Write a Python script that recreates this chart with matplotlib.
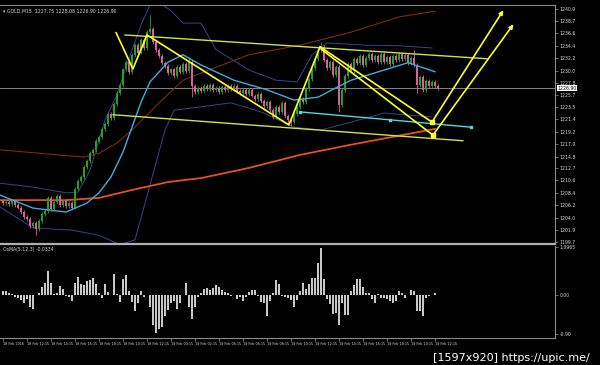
import matplotlib
matplotlib.use('Agg')
import matplotlib.pyplot as plt
import numpy as np

# GOLD M15 closes (one candle per bar, oldest first)
closes = [
    1206.6,
    1206.8, 1206.4, 1206.9, 1206.2, 1205.8,
    1205.0, 1204.2, 1203.8, 1202.6, 1203.1, 1202.0,
    1203.5, 1204.6, 1205.2, 1207.4, 1205.6, 1206.8, 1207.9, 1206.3, 1207.0, 1206.1, 1206.6, 1205.8,
    1209.0, 1210.5, 1211.2, 1213.0, 1214.1, 1215.4, 1216.0, 1217.6, 1218.2, 1219.7, 1220.5, 1222.3,
    1221.6, 1224.1, 1226.0, 1227.5, 1230.2, 1231.5, 1229.8, 1232.8, 1234.6, 1233.2, 1235.5, 1234.0,
    1236.8, 1237.3,
    1235.0, 1233.6, 1232.5, 1231.4, 1230.8, 1229.5, 1230.2, 1229.0, 1230.6, 1229.8, 1231.2, 1230.0, 1231.5,
    1227.2, 1226.2, 1227.0, 1226.4, 1227.2, 1226.8, 1227.4, 1226.6, 1227.0, 1226.3,
    1227.1, 1226.5, 1227.3, 1226.7, 1227.2, 1226.4, 1226.0, 1226.6, 1225.8, 1226.5,
    1225.6, 1225.0, 1225.8, 1224.6, 1223.8, 1224.5, 1223.0, 1221.8, 1223.5, 1222.6,
    1224.2, 1222.0, 1221.2, 1220.9,
    1222.4, 1223.6, 1225.0, 1224.4, 1226.8, 1228.6, 1230.5, 1232.0, 1233.6, 1234.2,
    1231.8, 1230.4, 1231.6, 1229.2, 1230.6, 1224.0, 1226.5, 1229.0, 1231.2, 1230.0,
    1232.1, 1231.4, 1232.6, 1231.0, 1232.2, 1233.0, 1231.8, 1232.5, 1231.6, 1232.9,
    1231.5, 1232.4, 1231.2, 1232.6, 1231.9, 1233.0, 1232.0, 1232.8, 1231.4, 1232.2,
    1231.0,
    1227.5, 1228.8, 1226.5, 1228.2, 1227.3, 1228.0, 1227.2, 1226.9,
]
first_open = 1206.9
long_highs = {49: 1239.8, 62: 1232.4, 106: 1235.0, 137: 1233.6}
long_lows = {11: 1200.9, 63: 1225.4, 95: 1220.3, 96: 1220.2, 112: 1222.6, 138: 1226.0}
last_price = 1226.90

# OsMA histogram
osma = [
    0.09, 0.09, 0.05, 0.02, -0.05, -0.07, -0.11, -0.18, -0.09, -0.27,
    -0.32, 0, 0.05, 0.18, 0.27, 0.55, 0.27, 0.02, 0.05, 0.21,
    0.14, -0.02, -0.05, -0.14, 0.27, 0.41, 0.25, 0.23, 0.32, 0.34,
    0.39, 0.25, 0.05, -0.07, 0.25, 0.07, 0, 0.48, 0.02, -0.16,
    0.37, 0.46, 0.09, -0.16, -0.37, -0.18, 0.09, -0.05, 0, -0.27,
    -0.68, -0.87, -0.78, -0.73, -0.48, -0.34, -0.18, -0.14, -0.32, -0.18,
    0, 0.27, -0.27, -0.55, -0.27, -0.05, 0.05, 0.14, 0.16, 0.11,
    0.16, 0.23, 0.18, 0.11, 0.07, 0.05, -0.02, 0, -0.09, -0.05,
    -0.14, -0.05, 0.07, 0.11, 0.11, -0.02, -0.16, -0.18, -0.48, -0.14,
    0.05, 0.34, 0.25, -0.02, -0.05, -0.07, -0.11, -0.27, -0.11, 0.09,
    0.27, 0.14, 0.25, 0.39, 0.39, 0.73, 1.07, 0.37, -0.09, -0.21,
    -0.43, -0.41, -0.68, -0.18, -0.46, -0.46, 0.09, 0.23, 0.37, 0.37,
    0.18, 0.05, 0.05, -0.09, -0.18, 0.02, -0.07, -0.07, -0.09, -0.14,
    -0.18, -0.14, 0.09, 0.05, -0.07, 0, 0.11, 0.09, -0.37, -0.37,
    -0.48, -0.07, -0.02, 0, 0.05, 0,
]

# indicator lines (bar index, price)
ma_fast_idx = [-1, 10, 21, 28, 32, 36, 40, 43, 46, 49, 55, 60, 66, 77, 88, 97, 105, 110, 116, 127, 135, 144]
ma_fast = [1208.0, 1205.7, 1205.0, 1206.6, 1208.4, 1211.2, 1215.6, 1220.0, 1224.4, 1228.0, 1231.5,
           1232.8, 1231.0, 1228.3, 1226.6, 1224.8, 1225.3, 1226.7, 1228.3, 1230.1, 1231.4, 1229.8]
ma_slow_idx = [-1, 21, 32, 43, 55, 66, 82, 99, 116, 130, 144]
ma_slow = [1207.1, 1207.1, 1207.5, 1208.9, 1210.3, 1211.0, 1212.8, 1215.1, 1216.9, 1218.3, 1219.7]
ma_long_idx = [-1, 27, 32, 38, 43, 52, 60, 71, 82, 99, 116, 132, 144]
ma_long = [1216.0, 1214.7, 1215.4, 1217.2, 1219.5, 1224.3, 1228.3, 1230.6, 1232.8, 1234.5, 1236.8,
           1239.5, 1240.5]
bb_up_idx = [-1, 10, 21, 25, 29, 34, 38, 41, 46, 49, 52, 56, 60, 66, 71, 82, 91, 98, 103, 108, 121, 132, 143]
bb_up = [1210.1, 1209.4, 1208.4, 1208.5, 1212.4, 1221.3, 1225.7, 1230.6, 1238.1, 1241.6, 1242.0,
         1240.6, 1238.4, 1238.4, 1233.7, 1230.1, 1228.3, 1228.0, 1232.8, 1234.9, 1234.5, 1234.4, 1234.0]
bb_lo_idx = [-1, 10, 23, 32, 39, 44, 49, 54, 57, 66, 76, 86, 97, 106, 116, 127, 143]
bb_lo = [1205.9, 1202.2, 1201.8, 1200.9, 1199.2, 1200.1, 1209.8, 1219.5, 1223.0, 1223.6, 1224.3,
         1222.7, 1220.0, 1219.5, 1220.9, 1222.5, 1221.8]

# hand-drawn objects (bar index, price)
zigzag = [(37.7, 1236.7), (43.3, 1230.3), (48.0, 1236.3), (95.3, 1220.4), (105.7, 1234.2)]
down_1 = [(105.7, 1234.2), (143.0, 1220.9)]
down_2 = [(106.3, 1233.7), (143.3, 1218.6)]
up_1 = [(143.0, 1220.9), (167.3, 1241.1)]
up_2 = [(143.3, 1218.6), (170.7, 1238.6)]
channel_top = [(40.7, 1236.3), (161.3, 1232.1)]
channel_bottom = [(36.7, 1222.2), (153.3, 1217.6)]
cyan_ray = [(99.0, 1222.7), (129.0, 1221.3), (156.0, 1220.0)]

price_labels = [1240.9, 1238.7, 1236.6, 1234.4, 1232.2, 1230.0, 1227.8, 1225.7, 1223.5, 1221.4,
                1219.2, 1217.0, 1214.8, 1212.7, 1210.6, 1208.4, 1206.2, 1204.0, 1201.9, 1199.7]
time_labels = ['18 Feb 2016', '18 Feb 12:15', '18 Feb 14:15', '18 Feb 16:15', '18 Feb 18:15',
               '18 Feb 20:15', '18 Feb 22:15', '19 Feb 00:15', '19 Feb 02:15', '19 Feb 04:15',
               '19 Feb 06:15', '19 Feb 08:15', '19 Feb 10:15', '19 Feb 12:15', '19 Feb 14:15',
               '19 Feb 16:15', '19 Feb 18:15', '19 Feb 20:15', '19 Feb 22:15']

BULL = '#23a123'
BEAR = '#d8619c'
AXIS = '#8a8a8a'
TXT = '#d8d8d8'

fig = plt.figure(figsize=(6, 3.65), dpi=100, facecolor='black')
ax = fig.add_axes([0.0, 1 - 244 / 365, 555 / 600, 239 / 365], facecolor='black')
ax2 = fig.add_axes([0.0, 1 - 338 / 365, 555 / 600, 92 / 365], facecolor='black', sharex=ax)

# candles
c = np.array(closes)
o = np.array([first_open] + closes[:-1])
x = np.arange(len(c))
hi = np.maximum(o, c) + 0.35
lo = np.minimum(o, c) - 0.35
for k, v in long_highs.items():
    hi[k] = v
for k, v in long_lows.items():
    lo[k] = v
cols = [BULL if cc >= oo else BEAR for oo, cc in zip(o, c)]
ax.vlines(x, lo, hi, colors=cols, lw=0.6, zorder=3)
ax.bar(x, np.maximum(np.abs(c - o), 0.18), bottom=np.minimum(o, c), width=0.62,
       color=cols, lw=0, zorder=3)

# moving averages and bands
ax.plot(bb_up_idx, bb_up, color='#34458a', lw=0.7, zorder=2)
ax.plot(bb_lo_idx, bb_lo, color='#34458a', lw=0.7, zorder=2)
ax.plot(ma_long_idx, ma_long, color='#7c2a12', lw=0.8, zorder=2)
ax.plot(ma_slow_idx, ma_slow, color='#e8501c', lw=1.3, zorder=2)
ax.plot(ma_fast_idx, ma_fast, color='#3aaee0', lw=1.0, zorder=4)

# current price line
ax.axhline(last_price, color='#9a9a9a', lw=0.6, zorder=1)

# drawn objects
yg = '#d2e04a'
for seg in (channel_top, channel_bottom):
    ax.plot(*zip(*seg), color=yg, lw=1.0, zorder=5)
cx, cy = zip(*cyan_ray)
ax.plot(cx, cy, color='#4fd8e0', lw=1.0, zorder=5)
ax.plot(cx, cy, 's', color='#4fd8e0', ms=1.6, zorder=5)
ax.plot(*zip(*zigzag), color='#ffff22', lw=1.2, zorder=6)
for seg in (down_1, down_2):
    ax.plot(*zip(*seg), color='#ffff22', lw=1.2, zorder=6)
    ax.plot(*seg[1], 's', color='#ffff22', ms=2.2, zorder=6)
for seg in (up_1, up_2):
    ax.annotate('', xy=seg[1], xytext=seg[0],
                arrowprops=dict(arrowstyle='-|>', color='#ffff22', lw=1.2, mutation_scale=6),
                zorder=6)

ax.set_xlim(-1, 184)
ax.set_ylim(1199.35, 1241.6)

# price scale on the right
ax.yaxis.tick_right()
ax.set_yticks(price_labels)
ax.set_yticklabels([f'{p:.1f}' for p in price_labels])
ax.tick_params(axis='y', colors=AXIS, labelcolor=TXT, labelsize=3.3, length=2, width=0.5, pad=1.5)
ax.tick_params(axis='x', bottom=False, labelbottom=False)
ax.text(1.004, last_price, f'{last_price:.2f}', transform=ax.get_yaxis_transform(),
        fontsize=3.3, color='black', va='center', ha='left',
        bbox=dict(boxstyle='square,pad=0.15', fc='white', ec='none'))
ax.spines['left'].set_visible(False)
ax.spines['top'].set_color(AXIS)
ax.spines['top'].set_linewidth(0.8)
ax.spines['right'].set_color(AXIS)
ax.spines['right'].set_linewidth(0.8)
ax.spines['bottom'].set_color('#b0b0b0')
ax.spines['bottom'].set_linewidth(1.6)

ax.text(0.005, 0.985, '\u25be GOLD,M15  1227.75 1228.08 1226.90 1226.90', transform=ax.transAxes,
        fontsize=3.3, color=TXT, va='top', ha='left')

# OsMA panel
ax2.bar(np.arange(len(osma)), osma, width=0.38, color='#c8c8c8', lw=0)
ax2.set_ylim(-0.98, 1.117)
ax2.yaxis.tick_right()
ax2.set_yticks([1.0965, 0, -0.90])
ax2.set_yticklabels(['1.0965', '0.00', '-0.90'])
ax2.tick_params(axis='y', colors=AXIS, labelcolor=TXT, labelsize=3.3, length=2, width=0.5, pad=1.5)
ax2.set_xticks(np.arange(0, 8 * len(time_labels), 8))
ax2.set_xticklabels(time_labels, ha='left')
ax2.tick_params(axis='x', colors=AXIS, labelcolor=TXT, labelsize=2.4, length=2, width=0.5, pad=1.2)
ax2.spines['left'].set_visible(False)
ax2.spines['top'].set_visible(False)
ax2.spines['right'].set_color(AXIS)
ax2.spines['right'].set_linewidth(0.8)
ax2.spines['bottom'].set_color(AXIS)
ax2.spines['bottom'].set_linewidth(0.8)
ax2.text(0.005, 0.99, 'OsMA(5,12,3) -0.0334', transform=ax2.transAxes,
         fontsize=3.3, color=TXT, va='top', ha='left')

fig.text(0.983, 0.006, '[1597x920] https://upic.me/', color='white', fontsize=8.0,
         ha='right', va='bottom')

fig.savefig('out.png', dpi=100, facecolor='black')
